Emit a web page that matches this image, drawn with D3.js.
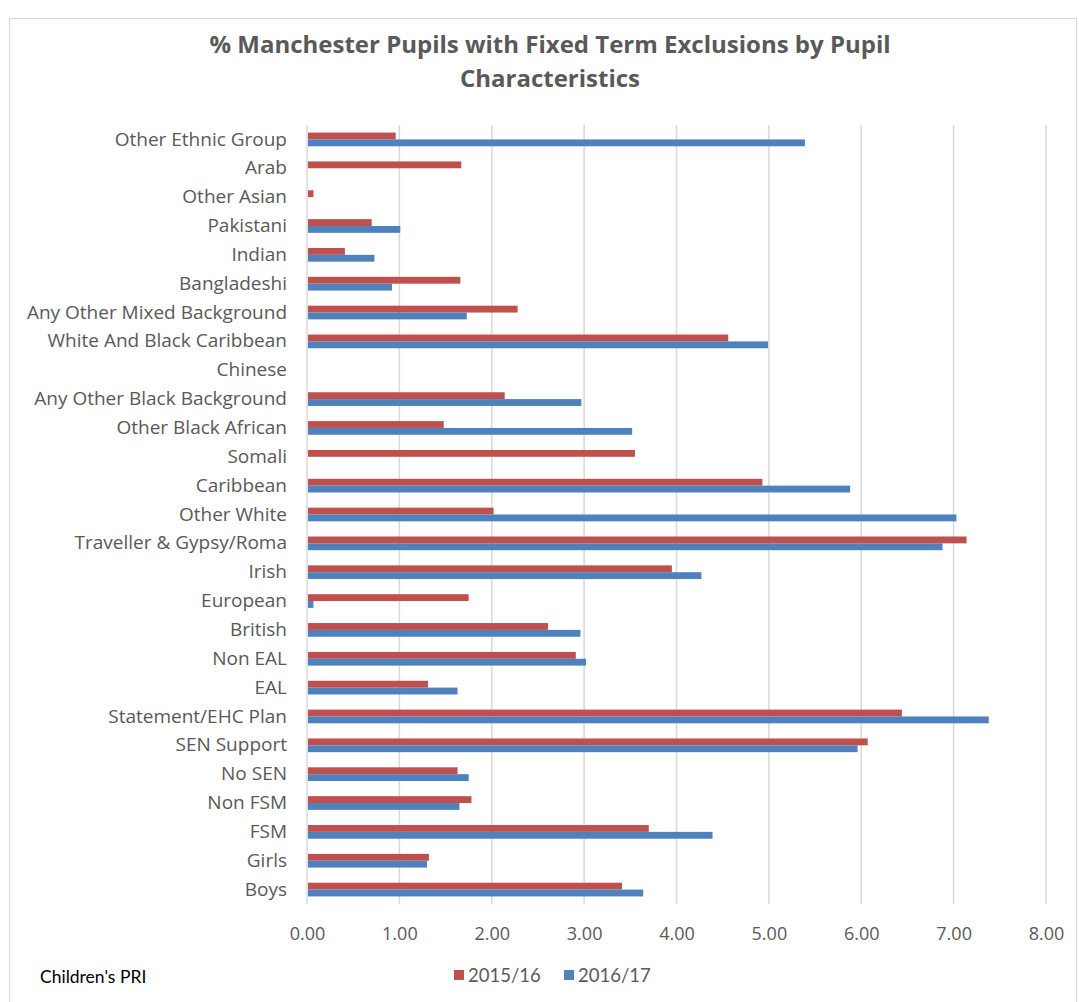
<!DOCTYPE html>
<html>
<head>
<meta charset="utf-8">
<script src="https://cdn.jsdelivr.net/npm/d3@7"></script>
<style>
  html, body { margin: 0; padding: 0; background: #fff; }
  svg { display: block; }
</style>
</head>
<body>
<svg id="chart" width="1079" height="1002"></svg>
<script>
// Pupil groups, listed top to bottom as drawn
const categories = [
  "Other Ethnic Group", "Arab", "Other Asian", "Pakistani", "Indian", "Bangladeshi",
  "Any Other Mixed Background", "White And Black Caribbean", "Chinese",
  "Any Other Black Background", "Other Black African", "Somali", "Caribbean",
  "Other White", "Traveller & Gypsy/Roma", "Irish", "European", "British",
  "Non EAL", "EAL", "Statement/EHC Plan", "SEN Support", "No SEN", "Non FSM",
  "FSM", "Girls", "Boys"
];

const seriesNames = ["2015/16", "2016/17"];

// % of pupils with a fixed term exclusion (null = no value)
const values2015 = [
  0.96, 1.67, 0.07, 0.70, 0.41, 1.66,
  2.28, 4.56, null,
  2.14, 1.48, 3.55, 4.93,
  2.02, 7.14, 3.95, 1.75, 2.61,
  2.91, 1.31, 6.44, 6.07, 1.63, 1.78,
  3.70, 1.32, 3.41
];
const values2016 = [
  5.39, null, null, 1.01, 0.73, 0.92,
  1.73, 4.99, null,
  2.97, 3.52, null, 5.88,
  7.03, 6.88, 4.27, 0.07, 2.96,
  3.02, 1.63, 7.38, 5.96, 1.75, 1.65,
  4.39, 1.30, 3.64
];

const tickValues = [0, 1, 2, 3, 4, 5, 6, 7, 8];
const seriesColors = ["#C0504D", "#4F81BD"];

const SANS = "'Open Sans', sans-serif";
const NARROW = "Lato, sans-serif";

const svg = d3.select("#chart");

// outer chart frame
svg.append("rect")
  .attr("x", 9.5).attr("y", 18.5)
  .attr("width", 1067).attr("height", 1000)
  .attr("fill", "#fff")
  .attr("stroke", "#d9d9d9").attr("stroke-width", 1);

// title
const title = svg.append("text")
  .attr("text-anchor", "middle")
  .attr("fill", "#595959")
  .style("font-family", SANS)
  .style("font-size", "24px")
  .style("font-weight", "bold");
title.append("tspan").attr("x", 550).attr("y", 53)
  .text("% Manchester Pupils with Fixed Term Exclusions by Pupil");
title.append("tspan").attr("x", 550).attr("y", 87)
  .text("Characteristics");

const plot = { left: 307, right: 1046, top: 125, bottom: 904 };

const x = d3.scaleLinear().domain([0, 8]).range([plot.left, plot.right]);

const y = d3.scaleBand()
  .domain(categories)
  .range([plot.top, plot.bottom])
  .paddingInner(0.525)
  .paddingOuter(0.2625);

const ySeries = d3.scaleBand()
  .domain(seriesNames)
  .range([0, y.bandwidth()]);

// vertical gridlines
svg.append("g")
  .selectAll("line")
  .data(tickValues)
  .join("line")
  .attr("x1", d => x(d)).attr("x2", d => x(d))
  .attr("y1", plot.top).attr("y2", plot.bottom)
  .attr("stroke", "#d9d9d9")
  .attr("stroke-width", 1.5);

// x axis labels
const xAxis = d3.axisBottom(x)
  .tickValues(tickValues)
  .tickFormat(d3.format(".2f"))
  .tickSize(0)
  .tickPadding(0);
const xg = svg.append("g")
  .attr("transform", `translate(0,${plot.bottom + 23})`)
  .call(xAxis);
xg.select(".domain").remove();
xg.selectAll("text")
  .attr("fill", "#595959")
  .style("font-size", "18px")
  .style("font-family", SANS);

// category labels
const yAxis = d3.axisLeft(y).tickSize(0).tickPadding(0);
const yg = svg.append("g")
  .attr("transform", `translate(${plot.left - 20},0)`)
  .call(yAxis);
yg.select(".domain").remove();
yg.selectAll("text")
  .attr("fill", "#595959")
  .style("font-size", "19px")
  .style("font-family", SANS);

// bars
const rows = categories.map((c, i) => ({
  cat: c,
  vals: [
    { s: seriesNames[0], v: values2015[i], color: seriesColors[0] },
    { s: seriesNames[1], v: values2016[i], color: seriesColors[1] }
  ]
}));

svg.append("g")
  .selectAll("g")
  .data(rows)
  .join("g")
  .attr("transform", d => `translate(0,${y(d.cat)})`)
  .selectAll("rect")
  .data(d => d.vals.filter(v => v.v != null))
  .join("rect")
  .attr("x", x(0) + 1)
  .attr("y", d => ySeries(d.s))
  .attr("width", d => Math.max(0, x(d.v) - x(0) - 1))
  .attr("height", ySeries.bandwidth())
  .attr("fill", d => d.color);

// footer source note
svg.append("text")
  .attr("x", 40).attr("y", 983)
  .attr("fill", "#000")
  .style("font-family", NARROW)
  .style("font-size", "17.5px")
  .text("Children's PRI");

// legend
const legend = svg.append("g").attr("transform", "translate(454,970)");
const legendItems = [
  { name: seriesNames[0], color: seriesColors[0], dx: 0 },
  { name: seriesNames[1], color: seriesColors[1], dx: 110 }
];
const li = legend.selectAll("g").data(legendItems).join("g")
  .attr("transform", d => `translate(${d.dx},0)`);
li.append("rect")
  .attr("width", 10).attr("height", 10)
  .attr("fill", d => d.color);
li.append("text")
  .attr("x", 14).attr("y", 12)
  .attr("fill", "#595959")
  .style("font-family", NARROW)
  .style("font-size", "18.5px")
  .text(d => d.name);
</script>
</body>
</html>
